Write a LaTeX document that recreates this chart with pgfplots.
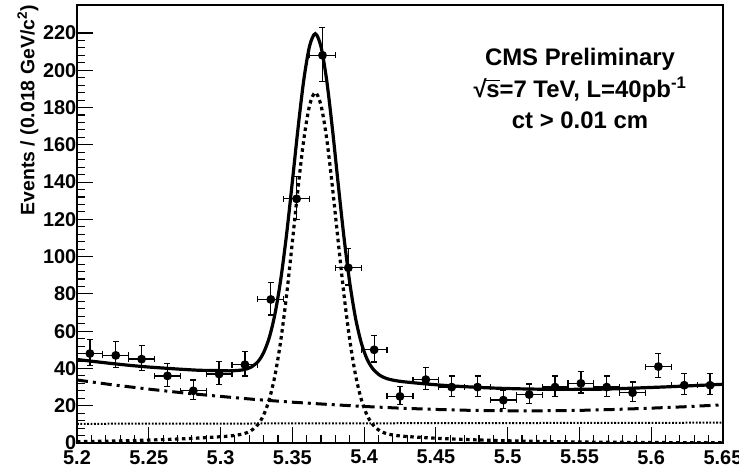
\documentclass[border=0pt]{standalone}
\usepackage{fontspec}
\setmainfont{Liberation Sans}
\usepackage{pgfplots}
\usepackage{pgfplotstable}
\pgfplotsset{compat=1.18}

\pgfplotstableread{
x      y    em     ep
5.209  48   6.45   7.45
5.227  47   6.37   7.37
5.245  45   6.23   7.23
5.263  36   5.52   6.52
5.281  28   4.82   5.82
5.299  37   5.60   6.60
5.317  42   6.00   7.00
5.335  77   8.29   9.29
5.353  131  10.96  11.96
5.371  208  13.93  14.93
5.389  94   9.21   10.21
5.407  50   6.59   7.59
5.425  25   4.52   5.52
5.443  34   5.35   6.35
5.461  30   5.00   6.00
5.479  30   5.00   6.00
5.497  23   4.32   5.32
5.515  26   4.62   5.62
5.533  30   5.00   6.00
5.551  32   5.18   6.18
5.569  30   5.00   6.00
5.587  27   4.72   5.72
5.605  41   5.92   6.92
5.623  31   5.09   6.09
5.641  31   5.09   6.09
}\datatable

\pgfplotstableread{
x      y
5.200  0.72
5.226  1.08
5.246  1.47
5.266  2.00
5.276  2.33
5.286  2.72
5.296  3.17
5.306  3.70
5.311  4.20
5.316  4.95
5.321  6.50
5.326  9.90
5.330  15.0
5.334  23.5
5.338  36.6
5.342  55.3
5.346  79.4
5.350  107.7
5.354  136.9
5.358  162.9
5.362  181.1
5.366  188.0
5.370  181.1
5.374  162.9
5.378  136.9
5.382  107.7
5.386  79.4
5.390  55.3
5.394  36.6
5.398  23.5
5.402  15.0
5.406  9.90
5.411  6.50
5.416  4.95
5.421  4.20
5.426  3.70
5.436  3.17
5.446  2.72
5.456  2.33
5.466  2.00
5.486  1.47
5.506  1.08
5.532  0.72
5.566  0.43
5.616  0.20
5.650  0.12
}\sigtable

\pgfplotstableread{
x      y
5.200  44.8
5.226  42.5
5.246  41.0
5.266  39.9
5.276  39.4
5.286  39.0
5.296  38.9
5.306  38.7
5.311  38.9
5.316  39.3
5.321  40.6
5.326  43.6
5.330  48.5
5.334  56.7
5.338  69.6
5.342  88.1
5.346  112.0
5.350  140.1
5.354  169.1
5.358  194.9
5.362  212.9
5.366  219.6
5.370  212.5
5.374  194.2
5.378  168.0
5.382  138.6
5.386  110.2
5.390  86.0
5.394  67.1
5.398  53.8
5.402  45.1
5.406  39.9
5.411  36.3
5.416  34.5
5.421  33.6
5.426  33.0
5.436  32.2
5.446  31.5
5.456  30.9
5.466  30.4
5.486  29.6
5.506  29.1
5.532  28.8
5.566  28.9
5.600  29.8
5.616  30.3
5.650  31.5
}\tottable

\pgfplotstableread{
x      y
5.200  33.8
5.225  31.2
5.250  28.9
5.275  26.8
5.300  25.0
5.325  23.3
5.350  21.9
5.375  20.7
5.400  19.6
5.425  18.7
5.450  18.0
5.475  17.5
5.500  17.3
5.525  17.3
5.550  17.5
5.575  18.0
5.600  18.7
5.625  19.5
5.650  20.5
}\bkgtable

\pgfplotstableread{
x      y
5.200  10.3
5.650  10.9
}\flattable

\begin{document}
\begin{tikzpicture}
\begin{axis}[
  scale only axis,
  width=646bp, height=438bp,
  xmin=5.2, xmax=5.65, ymin=0, ymax=235,
  axis line style={line width=1.6bp},
  xtick={5.2,5.25,5.3,5.35,5.4,5.45,5.5,5.55,5.6,5.65},
  xticklabels={5.2,5.25,5.3,5.35,5.4,5.45,5.5,5.55,5.6,5.65},
  minor x tick num=4,
  ytick={0,20,40,60,80,100,120,140,160,180,200,220},
  minor y tick num=4,
  tick align=inside,
  tick pos=left,
  major tick length=16bp,
  minor tick length=8bp,
  every tick/.style={line width=1.1bp, black},
  /pgf/number format/assume math mode=true,
  tick label style={font=\bfseries\fontsize{20}{20}\selectfont},
  yticklabel style={inner xsep=0.5bp},
  xticklabel style={inner ysep=7bp},
  ylabel={Events / (0.018 GeV/c\textsuperscript{2})},
  ylabel style={font=\bfseries\fontsize{19.5}{20}\selectfont, at={(axis description cs:-0.076,1)}, anchor=east, inner sep=0pt},
  clip=true,
]
\addplot[black, line width=2bp, dash pattern=on 1.8bp off 1.6bp] table[x=x,y=y] {\flattable};
\addplot[black, line width=3bp, dash pattern=on 11bp off 5bp on 3bp off 5bp] table[x=x,y=y] {\bkgtable};
\addplot[black, line width=3.2bp, dash pattern=on 3.5bp off 3.5bp, smooth, tension=0.5] table[x=x,y=y] {\sigtable};
\addplot[black, line width=3.2bp, smooth, tension=0.5] table[x=x,y=y] {\tottable};
\addplot[black, only marks, mark=*, mark size=3.8bp, line width=1.2bp,
  error bars/.cd, y dir=both, y explicit, x dir=both, x fixed=0.009,
  error mark=-,
  error mark options={rotate=90, line width=1.2bp, mark size=3bp, black},
  error bar style={line width=1.3bp, black}]
  table[x=x, y=y, y error plus=ep, y error minus=em] {\datatable};
\node[font=\bfseries\fontsize{24}{24}\selectfont, anchor=base] at (axis cs:5.5504,202.8) {CMS Preliminary};
\node[font=\bfseries\fontsize{24}{24}\selectfont, anchor=base] at (axis cs:5.5504,185.2) {\mbox{√\kern-0.5bp\vbox{\hrule height 1.4bp\kern 4bp\hbox{s}}}=7 TeV, L=40pb\textsuperscript{-1}};
\node[font=\bfseries\fontsize{24}{24}\selectfont, anchor=base] at (axis cs:5.5504,168.5) {ct > 0.01 cm};
\end{axis}
\pgfresetboundingbox
\path[use as bounding box] (-77bp,-24bp) rectangle (662bp,443bp);
\end{tikzpicture}
\end{document}
